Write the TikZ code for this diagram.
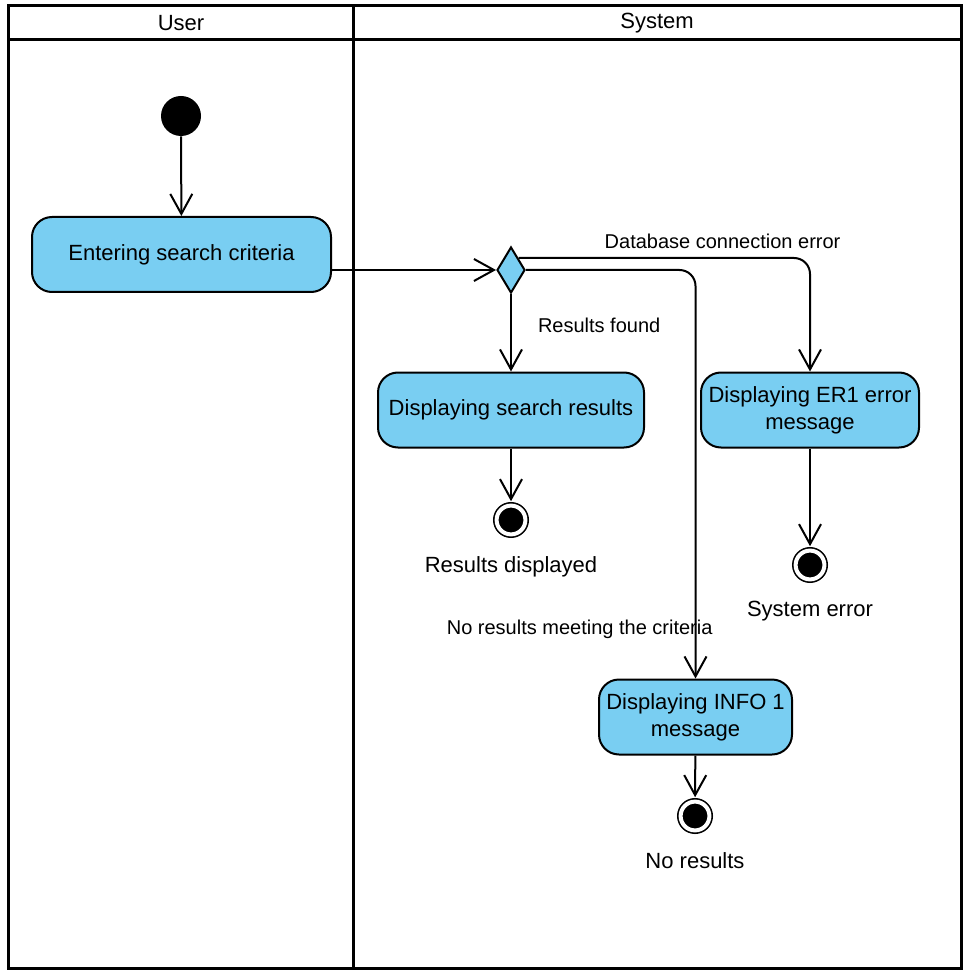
\documentclass[tikz,border=0pt]{standalone}
\usepackage{fontspec}
\setmainfont{Liberation Sans}
\usetikzlibrary{arrows.meta,shapes.geometric,positioning}
\definecolor{actfill}{RGB}{121,206,242}

\begin{document}
\begin{tikzpicture}[x=0.5pt,y=-0.5pt,
	action/.style={draw, fill=actfill, line width=1pt, rounded corners=10pt,
		minimum height=37.5pt, inner sep=2pt, align=center,
		font=\fontsize{11}{13.5}\selectfont},
	startdot/.style={circle, fill=black, minimum size=20pt, inner sep=0},
	enddot/.style={circle, draw, fill=black, line width=0.8pt, double=white,
		double distance=2pt, minimum size=14.4pt, inner sep=0},
	decision/.style={diamond, draw, fill=actfill, line width=1pt,
		minimum width=14pt, minimum height=23pt, inner sep=0},
	flow/.style={draw, line width=1pt, -{Straight Barb[length=10pt,width=11pt]}},
	elabel/.style={font=\fontsize{10}{12}\selectfont, inner sep=1pt},
	endlabel/.style={font=\fontsize{11}{13}\selectfont},
	lanehd/.style={font=\fontsize{11}{13}\selectfont},
	lane/.style={draw, line width=1.5pt}]
	
	\useasboundingbox (0,0) rectangle (963,972);
	
	% swimlanes
	\draw[lane] (8,6) rectangle (961,968);
	\draw[lane] (8,40) -- (961,40);
	\draw[lane] (353,6) -- (353,968);
	\node[lanehd] (userhd) at (181,23) {User};
	\node[lanehd] (syshd) at (657,23) {System};
	
	% nodes
	\node[startdot] (start) at (181,116) {};
	\node[action, minimum width=149.5pt] (enter) at (181.5,254.5) {Entering search criteria};
	\node[decision] (dec) at (511,270) {};
	\node[action, minimum width=133pt] (disp) at (511,410) {Displaying search results};
	\node[action, minimum width=109pt] (err) at (810,410) {Displaying ER1 error\\message};
	\node[action, minimum width=96.5pt] (info) at (695.5,717) {Displaying INFO 1\\message};
	
	\node[enddot] (end1) at (511,520) {};
	\node[enddot] (end2) at (810,565) {};
	\node[enddot] (end3) at (695,816) {};
	\node[endlabel, below=7pt of end1] (end1txt) {Results displayed};
	\node[endlabel, below=7pt of end2] (end2txt) {System error};
	\node[endlabel, below=7pt of end3] (end3txt) {No results};
	
	% flows
	\draw[flow] (start) -- (enter);
	\draw[flow] (enter.east |- dec.west) -- (dec.west);
	\draw[flow] (dec.south) -- node[elabel, pos=0.4, right=12pt] {Results found} (disp.north);
	\draw[flow, rounded corners=8pt] (dec.north east) -| node[elabel, pos=0.35, above=3pt] {Database connection error} (err.north);
	\draw[flow, rounded corners=8pt] (dec.east) -| node[elabel, pos=0.94, anchor=east, xshift=10pt] {No results meeting the criteria} (info.north);
	\draw[flow, shorten >=1.8pt] (disp) -- (end1);
	\draw[flow, shorten >=1.8pt] (err) -- (end2);
	\draw[flow, shorten >=1.8pt] (info) -- (end3);
	
\end{tikzpicture}
\end{document}
